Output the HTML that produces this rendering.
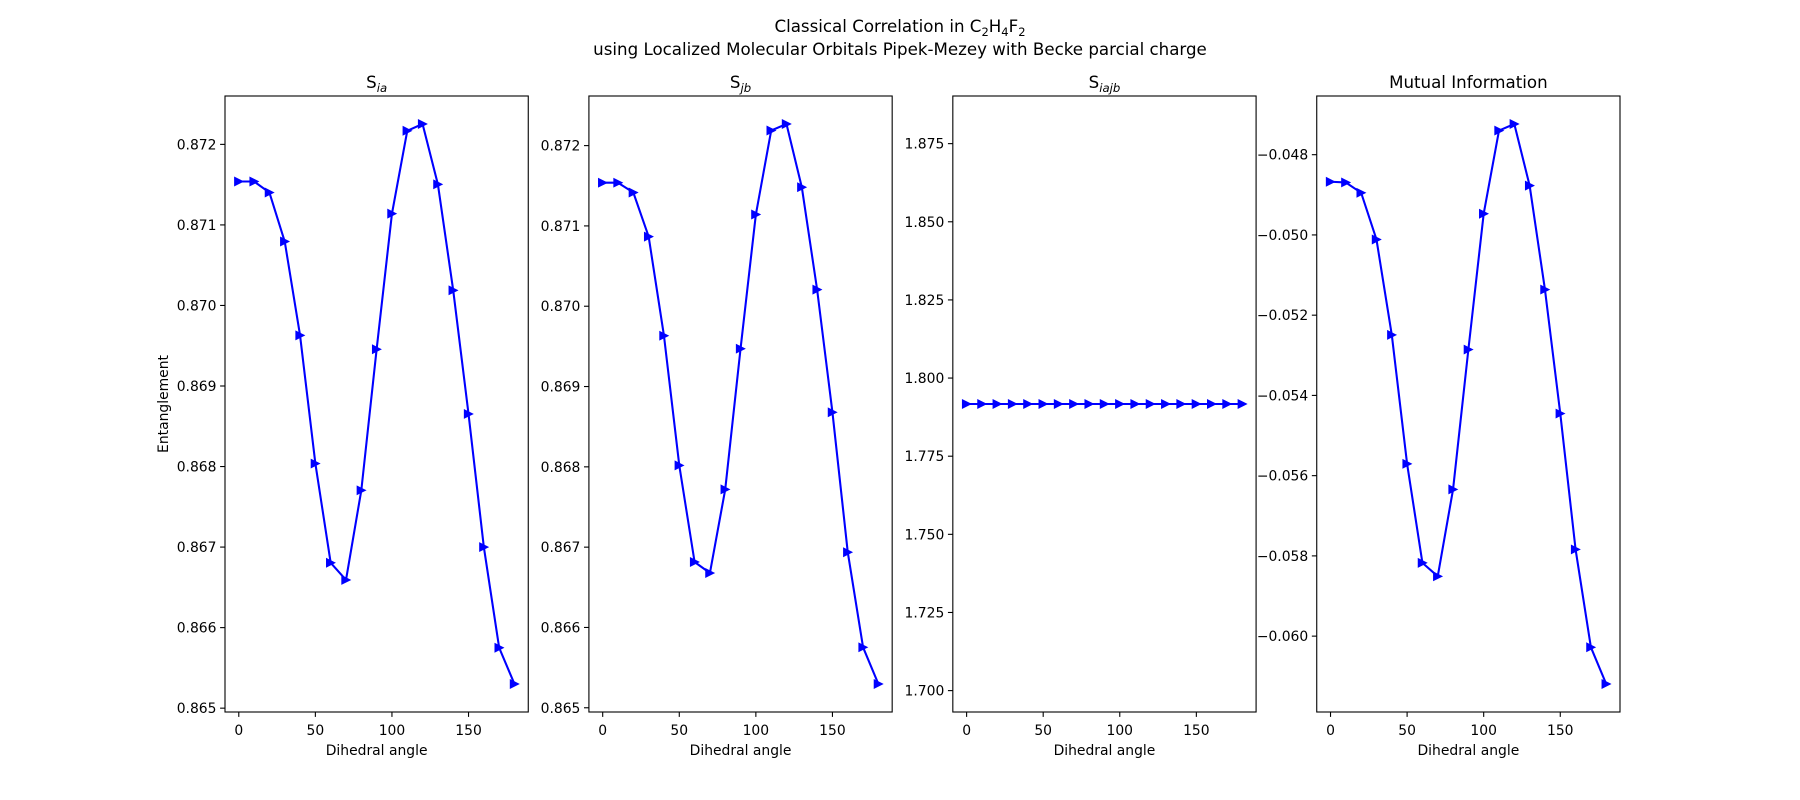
<!DOCTYPE html>
<html><head><meta charset="utf-8"><style>
html,body{margin:0;padding:0;background:#fff}
svg{display:block;font-family:"DejaVu Sans","Liberation Sans",sans-serif}
</style></head><body>
<svg id="fig" width="1800" height="800" viewBox="0 0 1800 800">
<rect width="1800" height="800" fill="#fff"/>
<text x="900" y="32" text-anchor="middle" font-size="16.67">Classical Correlation in C<tspan font-size="11.5" dy="4">2</tspan><tspan dy="-4">H</tspan><tspan font-size="11.5" dy="4">4</tspan><tspan dy="-4">F</tspan><tspan font-size="11.5" dy="4">2</tspan></text>
<text x="900" y="55" text-anchor="middle" font-size="16.67">using Localized Molecular Orbitals Pipek-Mezey with Becke parcial charge</text>
</svg>
<script>
const angles = [0,10,20,30,40,50,60,70,80,90,100,110,120,130,140,150,160,170,180];
const sIa = [0.871539,0.871539,0.871402,0.870794,0.869629,0.868037,0.866805,0.866592,0.867705,0.869456,0.871140,0.872169,0.872253,0.871504,0.870188,0.868653,0.867000,0.865750,0.865300];
const sJb = [0.871538,0.871538,0.871416,0.870867,0.869633,0.868018,0.866815,0.866678,0.867719,0.869471,0.871142,0.872188,0.872269,0.871482,0.870207,0.868679,0.866937,0.865753,0.865296];
const sIajb = [1.7917,1.7917,1.7917,1.7917,1.7917,1.7917,1.7917,1.7917,1.7917,1.7917,1.7917,1.7917,1.7917,1.7917,1.7917,1.7917,1.7917,1.7917,1.7917];
const mutualInfo = [-0.048675,-0.048692,-0.048950,-0.050113,-0.052492,-0.055705,-0.058174,-0.058509,-0.056343,-0.052857,-0.049471,-0.047399,-0.047235,-0.048770,-0.051362,-0.054452,-0.057839,-0.060278,-0.061193];
const xTicks = [0,50,100,150];
const yTicks1 = [0.865,0.866,0.867,0.868,0.869,0.870,0.871,0.872];
const yTicks2 = [0.865,0.866,0.867,0.868,0.869,0.870,0.871,0.872];
const yTicks3 = [1.700,1.725,1.750,1.775,1.800,1.825,1.850,1.875];
const yTicks4 = [-0.060,-0.058,-0.056,-0.054,-0.052,-0.050,-0.048];

const NS="http://www.w3.org/2000/svg";
const svgEl=document.getElementById('fig');
function mk(tag,attrs,parent){const e=document.createElementNS(NS,tag);for(const k in attrs)e.setAttribute(k,attrs[k]);(parent||svgEl).appendChild(e);return e;}

const panels=[
 {key:'s-ia',title:['S','ia'],vals:sIa,ticks:yTicks1,dec:3},
 {key:'s-jb',title:['S','jb'],vals:sJb,ticks:yTicks2,dec:3},
 {key:'s-iajb',title:['S','iajb'],vals:sIajb,ticks:yTicks3,dec:3},
 {key:'mutual-information',title:['Mutual Information',''],vals:mutualInfo,ticks:yTicks4,dec:3}
];
const axW=1395/4.6, axGap=axW*0.2, axTop=96, axBot=712;
panels.forEach((p,i)=>{
  const L=225+i*(axW+axGap), R=L+axW;
  const g=mk('g',{});
  
  
  let mn=Math.min(...p.vals), mx=Math.max(...p.vals);
  if(mx-mn<1e-12){const d=0.05*Math.abs(mn||1);mn-=d;mx+=d;}
  const m=(mx-mn)*0.05; const y0=mn-m, y1=mx+m;
  const xmn=-9, xmx=189;
  const X=v=>L+(v-xmn)/(xmx-xmn)*axW;
  const Y=v=>axBot-(v-y0)/(y1-y0)*(axBot-axTop);
  xTicks.forEach(t=>{
    const x=X(t);
    const tl=mk('line',{x1:x,x2:x,y1:axBot,y2:axBot+4.9,stroke:'#000','stroke-width':1.1},g);
    
    
    const tx=mk('text',{x:x,y:axBot+23,'text-anchor':'middle','font-size':13.9},g);
    
    
    tx.textContent=String(t);
  });
  p.ticks.forEach(t=>{
    const y=Y(t);
    const tl=mk('line',{x1:L-4.9,x2:L,y1:y,y2:y,stroke:'#000','stroke-width':1.1},g);
    
    
    const tx=mk('text',{x:L-8.5,y:y+5,'text-anchor':'end','font-size':13.9},g);
    
    
    tx.textContent=(t<0?'\u2212':'')+Math.abs(t).toFixed(p.dec);
  });
  const pts=angles.map((a,k)=>X(a).toFixed(2)+','+Y(p.vals[k]).toFixed(2)).join(' ');
  const pl=mk('polyline',{points:pts,fill:'none',stroke:'#0000ff','stroke-width':2.08,'stroke-linejoin':'round'},g);
  
  
  const s=4.17;
  angles.forEach((a,k)=>{
    const x=X(a), y=Y(p.vals[k]);
    const mkr=mk('polygon',{points:`${x+s},${y} ${x-s},${y-s} ${x-s},${y+s}`,fill:'#0000ff',stroke:'#0000ff','stroke-width':1},g);
    
    
  });
  const fr=mk('rect',{x:L,y:axTop,width:axW,height:axBot-axTop,fill:'none',stroke:'#000','stroke-width':1.1},g);
  
  
  const tt=mk('text',{x:(L+R)/2,y:axTop-8,'text-anchor':'middle','font-size':16.67},g);
  
  
  tt.textContent=p.title[0];
  if(p.title[1]){const sb=mk('tspan',{'font-size':11.7,'font-style':'italic',dy:4},tt);sb.textContent=p.title[1];}
  const xl=mk('text',{x:(L+R)/2,y:axBot+43,'text-anchor':'middle','font-size':13.9},g);
  
  
  xl.textContent='Dihedral angle';
  if(i===0){
    const yl=mk('text',{x:0,y:0,'text-anchor':'middle','font-size':13.9,transform:`translate(168,${(axTop+axBot)/2}) rotate(-90)`},g);
    
    
    yl.textContent='Entanglement';
  }
});
</script>
</body></html>
